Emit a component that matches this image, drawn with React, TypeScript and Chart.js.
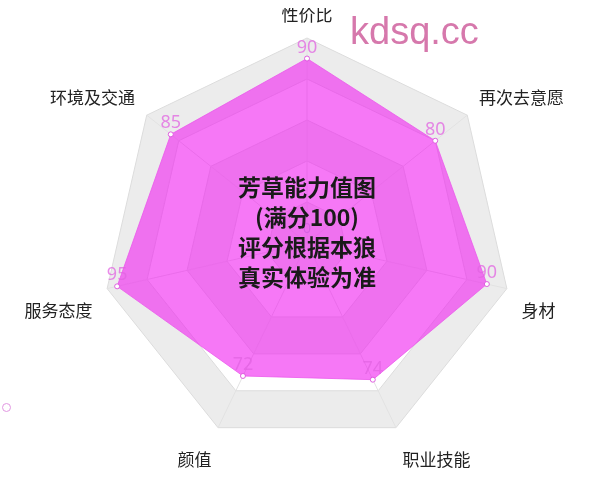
import React, { useEffect, useRef } from "react";
import { Chart, registerables } from "chart.js";

Chart.register(...registerables);

const categories = ["性价比", "再次去意愿", "身材", "职业技能", "颜值", "服务态度", "环境及交通"];
const values = [90, 80, 90, 74, 72, 95, 85];
const ringLevels = [0, 20, 40, 60, 80, 100];
const centerLines = ["芳草能力值图", "(满分100)", "评分根据本狼", "真实体验为准"];
const centerTick = "0";

const ringPlugin = {
  id: "rings",
  beforeDraw(chart: any) {
    const scale = chart.scales.r;
    if (!scale) return;
    const ctx = chart.ctx;
    const n = chart.data.labels.length;
    ctx.save();
    for (let i = 0; i < ringLevels.length - 1; i++) {
      if (i % 2 === 1) continue;
      const rIn = scale.getDistanceFromCenterForValue(ringLevels[i]);
      const rOut = scale.getDistanceFromCenterForValue(ringLevels[i + 1]);
      ctx.beginPath();
      for (let k = 0; k < n; k++) {
        const p = scale.getPointPosition(k, rOut);
        if (k === 0) ctx.moveTo(p.x, p.y);
        else ctx.lineTo(p.x, p.y);
      }
      ctx.closePath();
      if (rIn > 0) {
        for (let k = 0; k < n; k++) {
          const p = scale.getPointPosition(k, rIn);
          if (k === 0) ctx.moveTo(p.x, p.y);
          else ctx.lineTo(p.x, p.y);
        }
        ctx.closePath();
      }
      ctx.fillStyle = "rgba(200,200,200,0.35)";
      ctx.fill("evenodd");
    }
    ctx.restore();
  },
  afterDraw(chart: any) {
    const scale = chart.scales.r;
    const ctx = chart.ctx;
    const meta = chart.getDatasetMeta(0);
    ctx.save();
    // axis names (ECharts-like placement: nameGap outside the vertex)
    ctx.font = '17px "Noto Sans CJK SC", sans-serif';
    ctx.fillStyle = "#222";
    const R = scale.drawingArea;
    const gap = 15;
    categories.forEach((name, i) => {
      const p = scale.getPointPosition(i, R + gap);
      const dx = p.x - scale.xCenter;
      const dy = p.y - scale.yCenter;
      ctx.textAlign = Math.abs(dx) < 1 ? "center" : dx > 0 ? "left" : "right";
      if (dy < 0) {
        ctx.textBaseline = "bottom";
        ctx.fillText(name, p.x, p.y);
      } else {
        ctx.textBaseline = "top";
        ctx.fillText(name, p.x, p.y + 10);
      }
    });
    // value labels
    ctx.font = '18px "Noto Sans", "DejaVu Sans", sans-serif';
    ctx.fillStyle = "rgba(225,100,225,0.75)";
    ctx.textAlign = "center";
    ctx.textBaseline = "bottom";
    meta.data.forEach((el: any, i: number) => {
      ctx.fillText(String(values[i]), el.x, el.y - 2);
    });
    // center tick
    ctx.font = '14px "Noto Sans", sans-serif';
    ctx.fillStyle = "rgba(200,90,220,0.6)";
    ctx.textBaseline = "middle";
    ctx.fillText(centerTick, scale.xCenter, scale.yCenter - 14);
    // center title
    ctx.font = 'bold 23px "Noto Sans CJK SC", sans-serif';
    ctx.fillStyle = "#1a1a1a";
    const lh = 30;
    const start = scale.yCenter - 11 - (lh * (centerLines.length - 1)) / 2;
    centerLines.forEach((t, i) => {
      ctx.fillText(t, scale.xCenter, start + i * lh);
    });
    ctx.restore();
  },
};

export default function App() {
  const ref = useRef<HTMLCanvasElement | null>(null);
  useEffect(() => {
    if (!ref.current) return;
    const chart = new Chart(ref.current, {
      type: "radar",
      data: {
        labels: categories,
        datasets: [
          {
            label: "",
            data: values,
            backgroundColor: "rgba(240,30,240,0.6)",
            borderColor: "rgba(235,90,235,0.8)",
            borderWidth: 1,
            pointRadius: 2.5,
            pointBackgroundColor: "#ffffff",
            pointBorderColor: "rgba(220,80,220,0.9)",
            pointBorderWidth: 1,
          },
        ],
      },
      options: {
        animation: false,
        responsive: true,
        maintainAspectRatio: false,
        layout: { padding: { top: 30, bottom: 31, left: 14, right: 0 } },
        plugins: {
          legend: { display: false },
          tooltip: { enabled: false },
        },
        scales: {
          r: {
            min: 0,
            max: 100,
            ticks: { display: false, stepSize: 20 },
            grid: { color: "#dcdcdc", lineWidth: 1 },
            angleLines: { color: "#e2e2e2", lineWidth: 1 },
            pointLabels: { display: false },
          },
        },
      },
      plugins: [ringPlugin],
    });
    return () => chart.destroy();
  }, []);
  return (
    <div style={{ position: "relative", width: 584, height: 471 }}>
      <canvas ref={ref} />
      <div
        style={{
          position: "absolute",
          left: 342,
          top: 4,
          font: '38px "Liberation Sans", Arial, sans-serif',
          lineHeight: "38px",
          color: "rgb(214,120,172)",
          pointerEvents: "none",
        }}
      >
        kdsq.cc
      </div>
      <div
        style={{
          position: "fixed",
          left: 2,
          top: 403,
          width: 9,
          height: 9,
          boxSizing: "border-box",
          borderRadius: "50%",
          border: "1.2px solid rgb(225,150,225)",
          zIndex: 2,
        }}
      />
    </div>
  );
}
